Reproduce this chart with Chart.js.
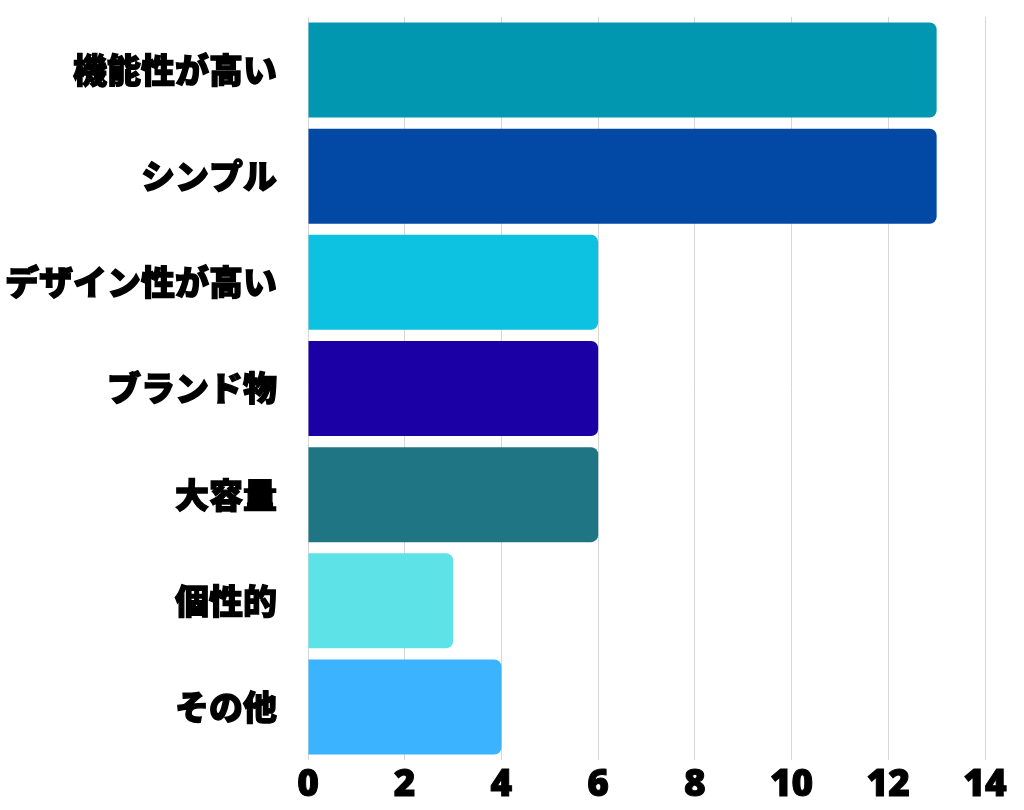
<!DOCTYPE html>
<html lang="ja">
<head>
    <meta charset="UTF-8">
    <title>選んだ理由</title>
    <script src="https://cdn.jsdelivr.net/npm/chart.js"></script>
    <style>
        html, body { margin: 0; padding: 0; background: #fff; }
        #wrap { width: 1024px; height: 810px; }
    </style>
</head>
<body>
    <div id="wrap"><canvas id="reasonChart" width="1024" height="810"></canvas></div>

    <script>
        // data
        const categories = ['機能性が高い', 'シンプル', 'デザイン性が高い', 'ブランド物', '大容量', '個性的', 'その他'];
        const counts = [13, 13, 6, 6, 6, 3, 4];
        const xTicks = [0, 2, 4, 6, 8, 10, 12, 14];

        const barColors = ['#0297b0', '#0249a6', '#0dc1e0', '#1b00a6', '#207584', '#5de2e7', '#3bb3fe'];
        const jpFont = '"Noto Sans CJK JP", "Noto Sans", sans-serif';
        const numFont = '"Open Sans", "Noto Sans", sans-serif';

        const ctx = document.getElementById('reasonChart').getContext('2d');
        const reasonChart = new Chart(ctx, {
            type: 'bar',
            data: {
                labels: categories,
                datasets: [{
                    data: counts,
                    backgroundColor: barColors,
                    borderRadius: 7,
                    categoryPercentage: 1.0,
                    barPercentage: 0.895
                }]
            },
            options: {
                indexAxis: 'y',
                responsive: false,
                animation: false,
                layout: { padding: { top: 17, right: 39, bottom: 0, left: 0 } },
                plugins: {
                    legend: { display: false },
                    tooltip: { enabled: false }
                },
                scales: {
                    x: {
                        min: 0,
                        max: 14,
                        afterBuildTicks: (scale) => {
                            scale.ticks = xTicks.map(v => ({ value: v }));
                        },
                        afterFit: (scale) => {
                            scale.height = 50;
                            scale.paddingLeft = 0;
                            scale.paddingRight = 0;
                        },
                        grid: { color: '#d6d6d6', lineWidth: 1, drawTicks: false },
                        border: { display: false },
                        ticks: {
                            color: '#000',
                            padding: 3,
                            textStrokeColor: '#000',
                            textStrokeWidth: 1,
                            font: { family: numFont, size: 37, weight: '800' }
                        }
                    },
                    y: {
                        grid: { display: false },
                        border: { display: false },
                        afterFit: (scale) => {
                            scale.width = 308;
                            scale.paddingTop = 0;
                            scale.paddingBottom = 0;
                        },
                        ticks: {
                            color: '#000',
                            padding: 23,
                            textStrokeColor: '#000',
                            textStrokeWidth: 1.3,
                            font: { family: jpFont, size: 34, weight: '900' }
                        }
                    }
                }
            }
        });
    </script>
</body>
</html>
